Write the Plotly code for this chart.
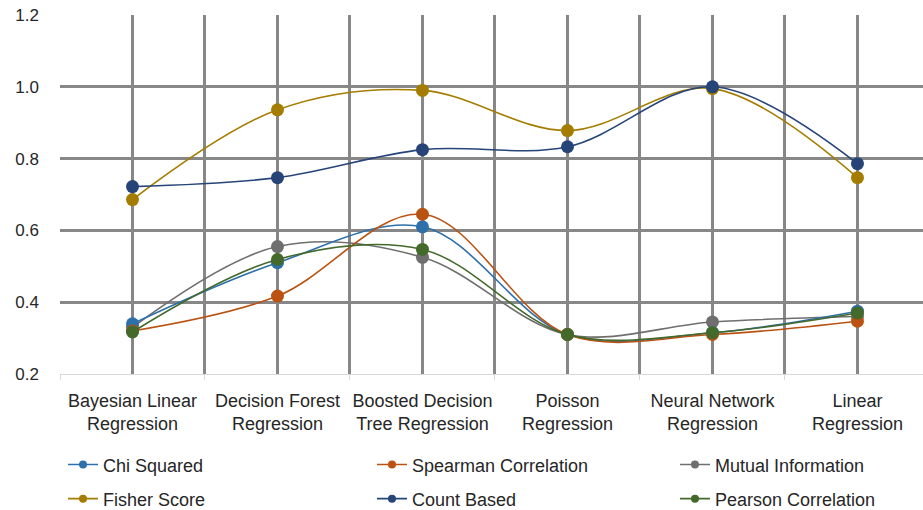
import plotly.graph_objects as go

categories = ["Bayesian Linear<br>Regression", "Decision Forest<br>Regression", "Boosted Decision<br>Tree Regression",
              "Poisson<br>Regression", "Neural Network<br>Regression", "Linear<br>Regression"]
chi_squared = [0.34, 0.51, 0.61, 0.31, 0.315, 0.375]
spearman = [0.32, 0.417, 0.645, 0.31, 0.31, 0.347]
mutual_info = [0.33, 0.555, 0.525, 0.31, 0.345, 0.36]
fisher = [0.686, 0.936, 0.99, 0.878, 0.995, 0.747]
count_based = [0.722, 0.747, 0.825, 0.833, 1.0, 0.786]
pearson = [0.317, 0.519, 0.547, 0.31, 0.315, 0.37]
y_ticks = [0.2, 0.4, 0.6, 0.8, 1.0, 1.2]

series = [
    ("Chi Squared", chi_squared, "#2E70AA"),
    ("Spearman Correlation", spearman, "#BA5312"),
    ("Mutual Information", mutual_info, "#6F6F6F"),
    ("Fisher Score", fisher, "#A47D00"),
    ("Count Based", count_based, "#264478"),
    ("Pearson Correlation", pearson, "#43692B"),
]
# draw order so that overlap resembles the reference
draw_order = [2, 0, 1, 5, 3, 4]

FONT = "Liberation Sans, Arial, sans-serif"
TXT = "#262626"
xs = list(range(len(categories)))

fig = go.Figure()
for i in draw_order:
    name, vals, col = series[i]
    fig.add_trace(go.Scatter(
        x=xs, y=vals, mode="lines+markers", name=name,
        line=dict(color=col, width=1.6, shape="spline", smoothing=1),
        marker=dict(color=col, size=13, line=dict(width=0)),
        showlegend=False,
    ))

legend_names = ["legend", "legend2", "legend3", "legend4", "legend5", "legend6"]
col_x = [0.0035, 0.3615, 0.7126]
row_y = [-0.253, -0.348]
layout_legends = {}
for k, (name, vals, col) in enumerate(series):
    lg = legend_names[k]
    fig.add_trace(go.Scatter(
        x=[None], y=[None], mode="lines+markers", name=name,
        line=dict(color=col, width=1.6),
        marker=dict(color=col, size=8),
        legend=lg, showlegend=True,
    ))
    layout_legends[lg] = dict(
        x=col_x[k % 3], xanchor="left", y=row_y[k // 3], yanchor="middle",
        font=dict(size=18, family=FONT, color=TXT),
        bgcolor="rgba(0,0,0,0)", borderwidth=0,
    )

fig.update_layout(
    width=923, height=510,
    margin=dict(l=60, r=0, t=15, b=136, autoexpand=False),
    plot_bgcolor="white", paper_bgcolor="white",
    font=dict(family=FONT, color=TXT, size=16),
    **layout_legends,
)
fig.update_xaxes(
    range=[-0.5, 5.452], tickvals=xs, ticktext=categories,
    showgrid=True, gridcolor="#878787", gridwidth=3,
    ticks="", ticklabelstandoff=10,
    tickfont=dict(size=18, family=FONT, color=TXT),
    showline=True, linecolor="#D9D9D9", linewidth=1,
    minor=dict(tickvals=[-0.5, 0.5, 1.5, 2.5, 3.5, 4.5, 5.5], showgrid=True,
               gridcolor="#878787", gridwidth=3, ticks="outside", ticklen=5,
               tickcolor="#D9D9D9", tickwidth=1),
    zeroline=False, automargin=False,
)
fig.update_yaxes(
    range=[0.2, 1.2], tickvals=y_ticks, ticktext=["%.1f" % v for v in y_ticks],
    showgrid=False, ticks="", ticklabelstandoff=20,
    tickfont=dict(size=17, family=FONT, color=TXT),
    minor=dict(tickvals=y_ticks[1:], showgrid=True, gridcolor="#878787", gridwidth=3),
    zeroline=False, showline=False, automargin=False,
)
fig.write_html("out.html")
